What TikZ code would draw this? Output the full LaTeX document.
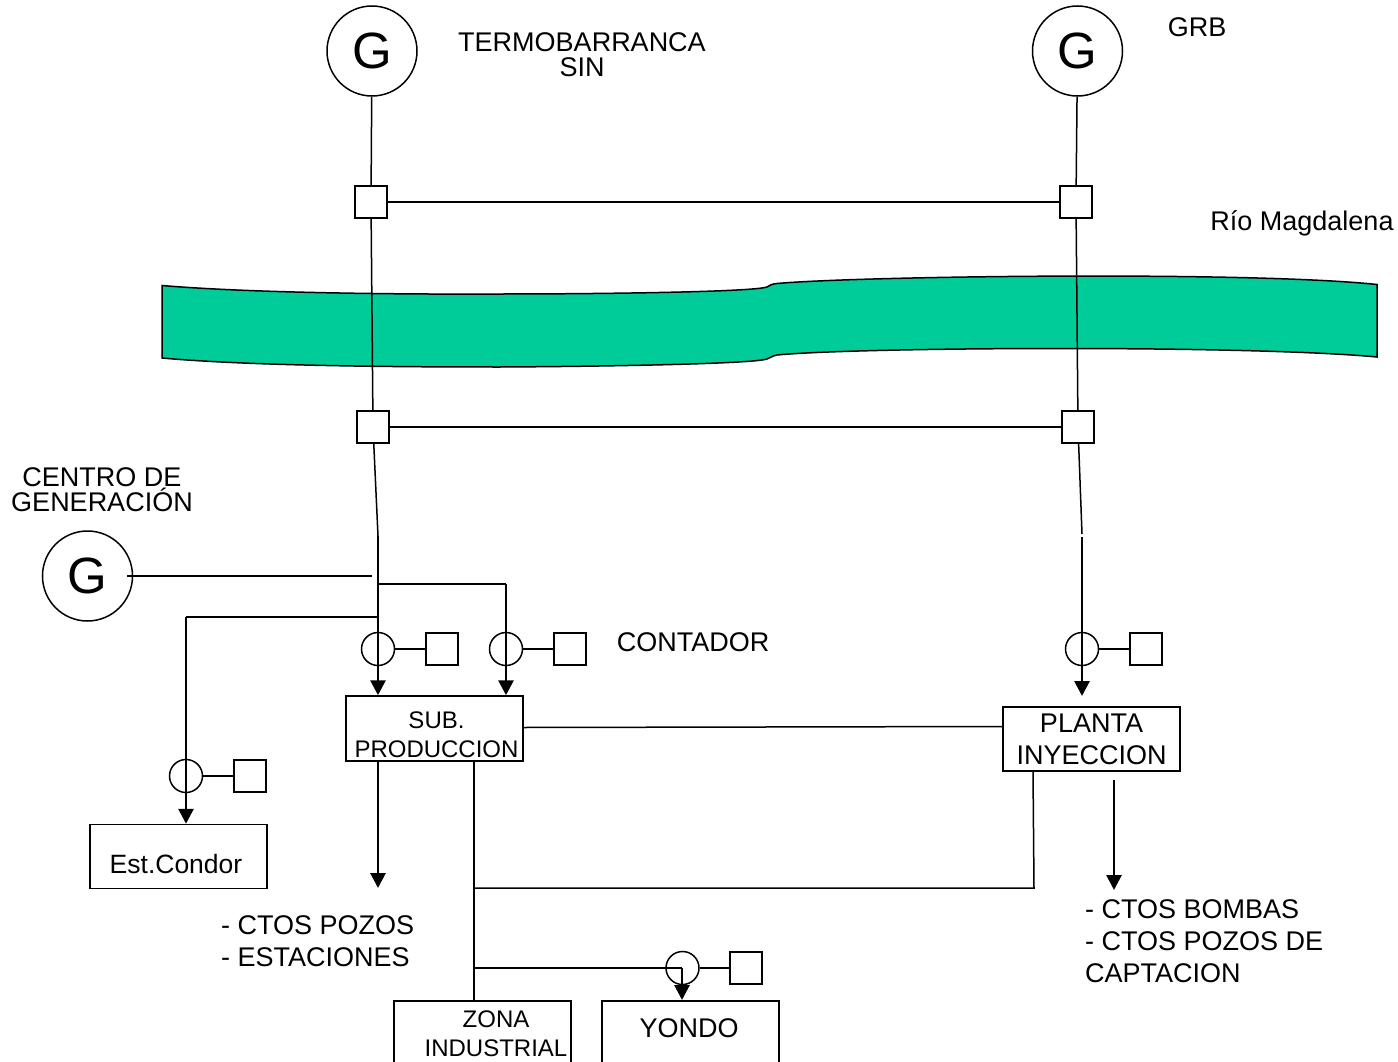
\documentclass[tikz,border=0pt]{standalone}
\usepackage{fontspec}
\setmainfont{Liberation Sans}
\usetikzlibrary{arrows.meta}
\definecolor{river}{HTML}{00CC99}
\tikzset{
  gen/.style={draw,circle,line width=1.5pt,minimum size=90pt,inner sep=0pt,font=\fontsize{51}{51}\selectfont},
  joint/.style={draw,rectangle,line width=1.5pt,minimum size=32pt,inner sep=0pt},
  meter/.style={draw,circle,line width=1.5pt,minimum size=33pt,inner sep=0pt},
  stationbox/.style={draw,rectangle,line width=1.5pt,minimum width=177pt,minimum height=64pt,inner sep=0pt,align=center},
  thinline/.style={line width=1.5pt},
  thickline/.style={line width=2.8pt,-{Triangle[width=15pt,length=15pt]}},
  label/.style={inner sep=0pt,align=center,font=\fontsize{27}{25}\selectfont},
  boxtext/.style={inner sep=0pt,align=center,font=\fontsize{24}{29}\selectfont},
  listlabel/.style={inner sep=0pt,align=left,font=\fontsize{27}{32}\selectfont},
}
\begin{document}
\begin{tikzpicture}[x=1pt,y=-1pt]
\useasboundingbox (0,0) rectangle (1398,1062);
\clip (0,0) rectangle (1398,1062);
% river
\path[fill=river,draw=black,line width=1.5pt]
  (162,285.5) .. controls (250,293) and (400,294.5) .. (500,294)
  .. controls (600,294) and (752,292) .. (767,287)
  .. controls (770,285) and (772,284) .. (777,283.5)
  .. controls (860,276) and (1250,271) .. (1377,284.5)
  -- (1377,357)
  .. controls (1250,345) and (860,347) .. (777,355)
  .. controls (772,356) and (770,358) .. (767,359)
  .. controls (752,364) and (600,366.5) .. (500,367)
  .. controls (400,367) and (250,366) .. (162,358) -- cycle;
% generators and switches
\node[gen] (g1) at (372,51) {G};
\node[gen] (g2) at (1077.5,51) {G};
\node[gen] (g3) at (87.5,576) {G};
\node[joint] (s1) at (371,202) {};
\node[joint] (s2) at (1076,202) {};
\node[joint] (s3) at (373,427) {};
\node[joint] (s4) at (1078,427) {};
% stations
\node[stationbox,minimum height=65pt] (sub) at (434.5,728.5) {};
\node[boxtext] (subt) at (436.5,735) {SUB.\\PRODUCCION};
\node[stationbox,font=\fontsize{27}{32}\selectfont] (planta) at (1091.5,739) {PLANTA\\INYECCION};
\node[stationbox] (condor) at (178.5,856.5) {};
\node[inner sep=0pt,font=\fontsize{26.5}{30}\selectfont] (condort) at (176,864) {Est.Condor};
\node[stationbox,anchor=north,minimum height=66pt] (zona) at (482.5,1000) {};
\node[boxtext] (zonat) at (496,1034) {ZONA\\INDUSTRIAL};
\node[stationbox,anchor=north,minimum height=66pt] (yondo) at (690.5,1000) {};
\node[inner sep=0pt,font=\fontsize{27}{27}\selectfont] (yondot) at (689,1028) {YONDO};
% junctions
\coordinate (a1) at (378,536);
\coordinate (a2) at (1082,534);
\coordinate (a2b) at (1082,537);
\coordinate (j1) at (378,584);
\coordinate (j2) at (506,584);
\coordinate (j3) at (378,617);
\coordinate (j4) at (186,617);
\coordinate (g3s) at (127,576);
\coordinate (g3e) at (372,576);
\coordinate (subo) at (378,888);
\coordinate (zj) at (474,888);
\coordinate (zj2) at (474,968);
\coordinate (zs) at (474,761);
\coordinate (pc) at (1034,888);
\coordinate (pu) at (1033,771);
\coordinate (pout) at (1114,780);
\coordinate (pend) at (1114,890);
\coordinate (yj) at (682,968);
\coordinate (pa) at (1082,696);
% meters
\node[meter] (m1) at (378,649) {};
\node[joint] (c1) at (442,649) {};
\node[meter] (m2) at (506,649) {};
\node[joint] (c2) at (570,649) {};
\node[meter] (m3) at (186,776) {};
\node[joint] (c3) at (250,776) {};
\node[meter] (m4) at (1082,649) {};
\node[joint] (c4) at (1146,649) {};
\node[meter] (m5) at (682.5,968) {};
\node[joint] (c5) at (746,968) {};
% thin connectors
\draw[thinline] (g1) -- (s1);
\draw[thinline] (g2) -- (s2);
\draw[thinline] (s1) -- (s3);
\draw[thinline] (s2) -- (s4);
\draw[thinline] (s1) -- (s2);
\draw[thinline] (s3) -- (s4);
\draw[thinline] (s3) -- (a1);
\draw[thinline] (s4) -- (a2);
\draw[thinline] (g3s) -- (g3e);
\draw[thinline] (j1) -- (j2);
\draw[thinline] (j3) -- (j4);
\draw[thinline] (m1) -- (c1);
\draw[thinline] (m2) -- (c2);
\draw[thinline] (m3) -- (c3);
\draw[thinline] (m4) -- (c4);
\draw[thinline] (m5) -- (c5);
\draw[thinline] (sub.east |- 0,727.5) -- (planta.west |- 0,726.5);
\draw[thinline] (zj) -- (pc) -- (pu);
\draw[thinline] (zs) -- (zona.north -| zj);
\draw[thinline] (zj2) -- (yj);
% thick arrows
\draw[thickline] (a1) -- (a1 |- sub.north);
\draw[thickline] (j2) -- (j2 |- sub.north);
\draw[thickline] (j4) -- (j4 |- condor.north);
\draw[thickline] (a2b) -- (pa);
\draw[thickline] (subo |- sub.south) -- (subo);
\draw[thickline] (pout) -- (pend);
\draw[thickline] (yj) -- (yj |- yondo.north);
% labels
\node[label] (t1) at (582,55) {TERMOBARRANCA\\SIN};
\node[label] (t2) at (1197,27) {GRB};
\node[label] (t3) at (1302,223) {Río Magdalena};
\node[label] (t4) at (102,489.5) {CENTRO DE\\GENERACIÓN};
\node[label] (t5) at (693,642) {CONTADOR};
\node[listlabel,anchor=west] (t6) at (221,941) {- CTOS POZOS\\- ESTACIONES};
\node[listlabel,anchor=west] (t7) at (1085,941) {- CTOS BOMBAS\\- CTOS POZOS DE\\CAPTACION};
\end{tikzpicture}
\end{document}
